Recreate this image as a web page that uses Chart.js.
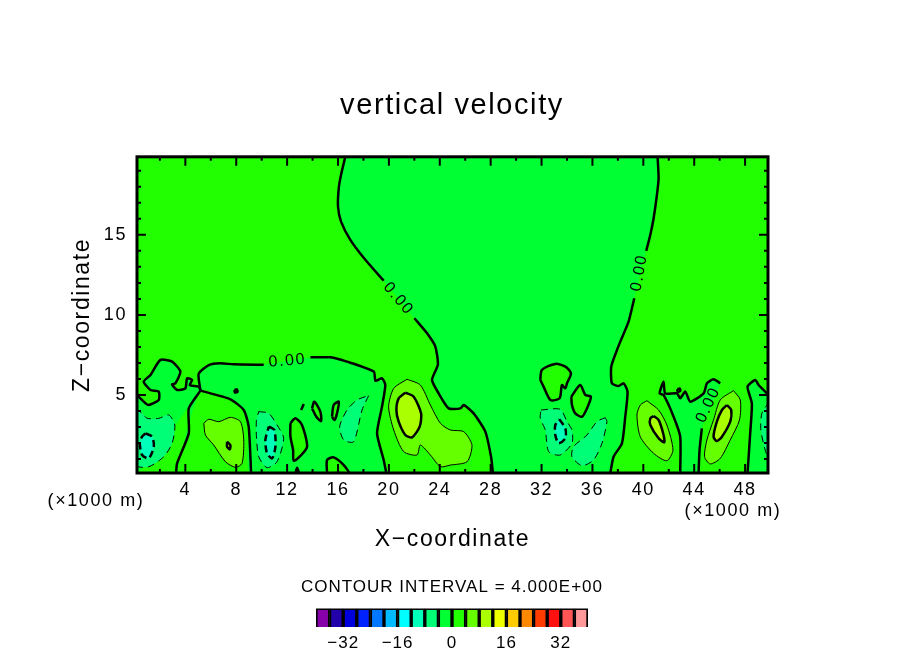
<!DOCTYPE html>
<html>
<head>
<meta charset="utf-8">
<title>vertical velocity</title>
<script src="https://cdn.jsdelivr.net/npm/chart.js@4/dist/chart.umd.js"></script>
<style>
    html, body { margin: 0; background: #fff; }
    #wrap { position: relative; width: 904px; height: 654px; overflow: hidden; }
    #mainChart { position: absolute; left: 0; top: 0; }
    #barChart { position: absolute; left: 0; top: 570px; }
</style>
</head>
<body>
<div id="wrap">
    <canvas id="mainChart"></canvas>
    <canvas id="barChart"></canvas>
</div>
<script>
// Axes
const xRange = [0.2, 49.8];
const yRange = [0.125, 19.875];
const xMajorTicks = [4, 8, 12, 16, 20, 24, 28, 32, 36, 40, 44, 48];
const xMinorTicks = [2, 6, 10, 14, 18, 22, 26, 30, 34, 38, 42, 46];
const yMajorTicks = [5, 10, 15];
const yMinorTicks = [1, 2, 3, 4, 6, 7, 8, 9, 11, 12, 13, 14, 16, 17, 18, 19];

// Zero contour in (km, km)
const zeroCenterLeftUpper = [[16.58, 19.9], [16.24, 18.75], [16.06, 17.92], [16.0, 16.77], [16.24, 15.83], [16.97, 14.69], [18.15, 13.44], [19.59, 12.13]];
const zeroCenterLeftLower = [[22.0, 9.79], [23.0, 8.85], [23.65, 8.02], [23.85, 6.9], [23.39, 5.94], [23.91, 5.1], [24.7, 4.16], [25.62, 4.16], [25.88, 4.37], [26.66, 3.85], [27.58, 2.71], [28.03, 1.14], [28.18, 0.1]];
const zeroCenterRightUpper = [[41.12, 19.9], [41.2, 18.54], [41.07, 17.5], [40.81, 16.04], [40.55, 15.0], [40.23, 14.0]];
const zeroCenterRightLower = [[39.29, 11.04], [38.84, 9.58], [38.19, 8.33], [37.93, 7.81], [37.48, 6.77], [37.53, 5.73], [38.06, 5.56], [38.45, 5.73], [38.76, 5.21], [38.58, 3.64], [38.32, 1.98], [37.66, 1.14], [37.4, 0.1]];
const zeroLeftWiggle = [[0.2, 5.0], [0.26, 4.94], [0.87, 4.48], [1.13, 4.37], [1.91, 4.69], [1.91, 5.21], [1.26, 5.31], [0.73, 5.83], [1.26, 6.25], [2.04, 7.19], [2.96, 7.08], [3.61, 6.46], [3.22, 5.73], [2.96, 5.66], [3.35, 5.31], [4.0, 5.41], [4.14, 6.04], [4.53, 5.94], [4.35, 5.62], [5.06, 5.52], [5.19, 5.27]];
const zeroLobeLeft = [[5.19, 5.27], [4.27, 4.16], [4.27, 2.6], [3.35, 0.73], [3.27, 0.1]];
const zeroLobeRight = [[5.19, 5.27], [7.54, 4.73], [8.59, 4.06], [8.98, 3.02], [9.17, 0.1]];
const zeroRoofLeft = [[5.19, 5.27], [5.06, 5.94], [5.06, 6.35], [5.84, 6.87], [6.76, 6.98], [7.81, 6.91], [10.16, 6.89]];
const zeroRoofRight = [[13.83, 7.35], [15.4, 7.35], [16.71, 7.08], [18.81, 6.46], [18.94, 5.89], [19.46, 6.04], [19.72, 5.62], [19.46, 4.27], [19.07, 2.6], [19.59, 0.94], [19.8, 0.1]];
const zeroPocketLeft = [[42.9, 0.1], [42.9, 2.39], [42.38, 3.64], [41.59, 5.0], [41.28, 5.1], [41.59, 5.83], [41.72, 5.1], [42.64, 5.1], [42.9, 4.79], [43.3, 5.21], [43.69, 4.58], [44.74, 5.1], [45.0, 5.73], [45.52, 5.98], [46.05, 5.73]];
const zeroPocketRight = [[44.6, 2.91], [44.42, 1.56], [44.34, 0.1]];
const zeroRightEdge = [[48.19, 0.1], [48.4, 2.6], [48.53, 4.48], [48.19, 5.52], [48.8, 5.94], [49.06, 5.62], [49.85, 5.0]];

// Positive islands bounded by the zero contour
const islandA = [[12.26, 3.23], [12.65, 3.54], [13.17, 3.12], [13.57, 1.77], [13.04, 1.19], [12.52, 0.89], [12.47, 1.56], [12.26, 2.39]];
const islandB = [[15.14, 0.1], [15.14, 0.94], [15.66, 1.1], [16.45, 0.62], [16.84, 0.1]];
const islandC = [[12.65, 0.1], [12.78, 0.46], [12.91, 0.1]];
const islandD = [[13.96, 4.16], [14.14, 4.58], [14.61, 3.96], [14.67, 3.37], [14.3, 3.64]];
const islandE = [[15.53, 3.64], [15.66, 4.37], [16.06, 4.58], [15.92, 3.85], [15.72, 3.44]];
const islandF = [[7.85, 5.3], [8.05, 5.35], [8.1, 5.2], [7.9, 5.15]];
const islandG = [[31.9, 5.94], [32.03, 6.56], [33.08, 6.94], [33.87, 6.77], [34.31, 6.35], [34.0, 5.73], [33.87, 5.41], [33.6, 5.62], [33.42, 4.79], [32.69, 4.69], [32.16, 5.52]];
const islandH = [[34.34, 4.89], [35.04, 5.62], [35.44, 5.0], [35.88, 4.89], [35.57, 4.16], [35.18, 3.64], [34.65, 3.85], [34.39, 4.37]];
const islandI = [[42.67, 5.36], [42.87, 5.4], [42.9, 5.25], [42.7, 5.2]];
const zeroStub = [[13.1, 4.06], [13.31, 4.44]];

// +4 level
const plusFourA = [[5.45, 3.23], [5.84, 3.48], [6.63, 3.33], [7.54, 3.6], [8.33, 3.33], [8.59, 2.19], [8.46, 0.73], [7.94, 0.48], [7.15, 0.83], [6.23, 1.87], [5.58, 2.5]];
const plusFourB = [[21.43, 5.98], [22.47, 5.62], [23.26, 4.37], [24.05, 3.23], [24.83, 2.81], [25.88, 2.71], [26.53, 1.87], [26.14, 0.83], [24.83, 0.62], [24.05, 0.52], [23.26, 1.25], [22.47, 1.87], [22.21, 1.25], [21.16, 1.46], [20.38, 2.81], [19.98, 4.27], [20.38, 5.41]];
const plusFourC = [[40.28, 4.64], [41.2, 4.06], [41.85, 3.12], [42.33, 1.56], [41.85, 0.89], [40.81, 1.35], [39.76, 2.39], [39.5, 3.75], [39.76, 4.37]];
const plusFourD = [[47.09, 5.27], [47.62, 4.69], [47.56, 3.44], [46.83, 2.19], [46.05, 1.04], [45.26, 0.69], [44.81, 1.14], [45.0, 2.19], [45.52, 3.44], [46.05, 4.69]];

// +8 level
const plusEightA = [[7.28, 2.08], [7.54, 1.87], [7.49, 1.6], [7.28, 1.77]];
const plusEightB = [[21.29, 5.14], [21.95, 4.89], [22.53, 3.85], [22.42, 3.02], [21.82, 2.35], [21.29, 2.5], [20.77, 3.33], [20.59, 4.06], [20.77, 4.79]];
const plusEightC = [[40.81, 3.69], [41.2, 3.44], [41.59, 2.5], [41.64, 2.04], [41.2, 2.29], [40.55, 3.12], [40.55, 3.54]];
const plusEightD = [[46.57, 4.37], [46.91, 4.06], [46.83, 3.33], [46.18, 2.39], [45.78, 2.12], [45.52, 2.39], [45.78, 3.33], [46.18, 4.06]];

// -4 level
const minusFourA = [[0.1, 4.16], [0.6, 3.85], [1.0, 3.54], [1.91, 3.54], [2.7, 3.75], [3.17, 3.12], [2.96, 1.98], [2.3, 1.14], [1.13, 0.52], [0.1, 0.62]];
const minusFourB = [[9.77, 3.96], [10.56, 3.85], [11.21, 3.12], [11.73, 2.29], [11.21, 0.83], [10.42, 0.46], [9.77, 1.14], [9.59, 2.39], [9.59, 3.43]];
const minusFourC = [[18.41, 4.96], [17.89, 4.06], [17.23, 2.08], [16.45, 2.19], [16.13, 3.02], [16.71, 4.06], [17.5, 4.69]];
const minusFourD = [[31.95, 4.06], [33.47, 4.1], [34.0, 3.33], [34.39, 2.81], [34.39, 1.98], [33.47, 1.25], [32.56, 1.46], [32.29, 2.81], [31.9, 3.54]];
const minusFourE = [[37.01, 3.58], [37.14, 3.33], [36.75, 1.98], [36.09, 0.94], [35.18, 0.58], [34.39, 1.14], [34.52, 1.77], [35.57, 2.5], [36.35, 3.33]];
const minusFourF = [[49.9, 4.58], [49.32, 3.85], [49.24, 2.81], [49.58, 1.56], [49.9, 0.94]];

// -8 level
const minusEightA = [[0.87, 2.6], [1.39, 2.39], [1.52, 1.77], [1.13, 1.04], [0.6, 1.25], [0.42, 1.98], [0.6, 2.39]];
const minusEightB = [[10.56, 3.02], [11.0, 2.81], [11.08, 1.77], [10.82, 1.04], [10.42, 1.35], [10.29, 2.19]];
const minusEightC = [[33.39, 3.48], [33.87, 2.91], [33.87, 2.29], [33.34, 1.98], [33.08, 2.5], [33.08, 3.12]];

// Contour labels: text, x, z, rotation in degrees
const labelTexts = ['0.00', '0.00', '0.00', '0.00'];
const labelX = [12.02, 20.74, 39.68, 45.1];
const labelZ = [7.13, 11.0, 12.63, 4.38];
const labelAngle = [-5, 50, -80, -65];

// Colour bar
const barLevels = [-38, -34, -30, -26, -22, -18, -14, -10, -6, -2, 2, 6, 10, 14, 18, 22, 26, 30, 34, 38];
const barValues = [1, 1, 1, 1, 1, 1, 1, 1, 1, 1, 1, 1, 1, 1, 1, 1, 1, 1, 1, 1];
const barColors = ['#8800aa', '#2200aa', '#0000dd', '#0022ff', '#0077ff', '#00bbff', '#00ffff', '#00ffbb', '#00ff77', '#00ff33', '#22ff00', '#66ff00', '#aaff00', '#eeff00', '#ffcc00', '#ff8800', '#ff3c00', '#ff1111', '#ff5555', '#ff9999'];
const barTicks = [-32, -16, 0, 16, 32];

const TEXT_FONT = '"Liberation Sans"';
const C_ZERO_POS = '#22ff00';
const C_ZERO_NEG = '#00ff33';
const C_PLUS4 = '#66ff00';
const C_PLUS8 = '#aaff00';
const C_MINUS4 = '#00ff77';
const C_MINUS8 = '#00ffbb';

const THICK = 2.5;
const layers = [];

function toPoints(list) {
    return list.map(([x, y]) => ({ x, y }));
}

function rev(list) {
    return list.slice().reverse();
}

// fill only, no outline
function addFill(list, color, tension) {
    layers.push({
        data: toPoints(list.concat([list[0]])),
        showLine: true, fill: 'shape', backgroundColor: color,
        borderWidth: 0, borderColor: 'transparent', pointRadius: 0, tension
    });
}

function addLine(list, width) {
    layers.push({
        data: toPoints(list),
        showLine: true, fill: false, borderColor: '#000',
        borderWidth: width, pointRadius: 0, tension: 0.2
    });
}

// closed blob with outline
function addBlob(list, color, width, dash) {
    layers.push({
        data: toPoints(list.concat([list[0]])),
        showLine: true, fill: 'shape', backgroundColor: color, borderColor: '#000',
        borderWidth: width, borderDash: dash || [], pointRadius: 0, tension: 0.25
    });
}

const bottomY = 0.1;
const topY = 20;
const leftX = 0.1;
const rightX = 49.9;

// background first, everything else painted on top in order
addFill([[leftX, bottomY], [rightX, bottomY], [rightX, topY], [leftX, topY]], C_ZERO_POS, 0);
addFill(zeroCenterLeftUpper.concat(zeroCenterLeftLower, rev(zeroCenterRightLower), rev(zeroCenterRightUpper)), C_ZERO_NEG, 0.2);
addFill(zeroLeftWiggle.concat(zeroRoofLeft, zeroRoofRight, rev(zeroLobeRight), rev(zeroLobeLeft), [[leftX, bottomY], [leftX, 5]]), C_ZERO_NEG, 0.2);
addFill(zeroPocketLeft.concat(zeroPocketRight), C_ZERO_NEG, 0.2);
addFill(zeroRightEdge.concat([[rightX, bottomY]]), C_ZERO_NEG, 0.2);

[zeroCenterLeftUpper, zeroCenterLeftLower, zeroCenterRightUpper, zeroCenterRightLower,
    zeroLeftWiggle, zeroLobeLeft, zeroLobeRight, zeroRoofLeft, zeroRoofRight,
    zeroPocketLeft, zeroPocketRight, zeroRightEdge, zeroStub].forEach(c => addLine(c, THICK));

[islandA, islandB, islandC, islandD, islandE, islandF, islandG, islandH, islandI].forEach(c => addBlob(c, C_ZERO_POS, THICK));
[plusFourA, plusFourB, plusFourC, plusFourD].forEach(c => addBlob(c, C_PLUS4, 1));
[plusEightA, plusEightB, plusEightC, plusEightD].forEach(c => addBlob(c, C_PLUS8, THICK));
[minusFourA, minusFourB, minusFourC, minusFourD, minusFourE, minusFourF].forEach(c => addBlob(c, C_MINUS4, 1, [7, 5]));
[minusEightA, minusEightB, minusEightC].forEach(c => addBlob(c, C_MINUS8, THICK, [7, 4]));

// wide stroke-font look for all text on a canvas
function spacingPlugin(px) {
    return {
        id: 'spacing',
        beforeDraw(chart) {
            chart.ctx.letterSpacing = px;
        }
    };
}

// frame, inward ticks and the free-standing text
const framePlugin = {
    id: 'frame',
    afterDatasetsDraw(chart) {
        const { ctx, chartArea: a, scales: { x, y } } = chart;
        ctx.save();
        ctx.strokeStyle = '#000';
        ctx.fillStyle = '#000';
        ctx.lineWidth = 2;
        const tickX = (v, len) => {
            const p = x.getPixelForValue(v);
            ctx.beginPath();
            ctx.moveTo(p, a.bottom); ctx.lineTo(p, a.bottom - len);
            ctx.moveTo(p, a.top); ctx.lineTo(p, a.top + len);
            ctx.stroke();
        };
        const tickY = (v, len) => {
            const p = y.getPixelForValue(v);
            ctx.beginPath();
            ctx.moveTo(a.left, p); ctx.lineTo(a.left + len, p);
            ctx.moveTo(a.right, p); ctx.lineTo(a.right - len, p);
            ctx.stroke();
        };
        xMajorTicks.forEach(v => tickX(v, 9));
        xMinorTicks.forEach(v => tickX(v, 4));
        yMajorTicks.forEach(v => tickY(v, 9));
        yMinorTicks.forEach(v => tickY(v, 4));
        ctx.lineWidth = 3;
        ctx.strokeRect(a.left, a.top, a.right - a.left, a.bottom - a.top);

        ctx.textAlign = 'center';
        ctx.textBaseline = 'middle';
        ctx.font = '16px ' + TEXT_FONT;
        labelTexts.forEach((t, i) => {
            ctx.save();
            ctx.translate(x.getPixelForValue(labelX[i]), y.getPixelForValue(labelZ[i]));
            ctx.rotate(labelAngle[i] * Math.PI / 180);
            ctx.fillText(t, 0, 0);
            ctx.restore();
        });

        ctx.font = '18px ' + TEXT_FONT;
        ctx.fillText('(×1000 m)', 96, 501);
        ctx.fillText('(×1000 m)', 733, 511);
        ctx.restore();
    }
};

function tickFont() {
    return { family: TEXT_FONT, size: 18 };
}

document.addEventListener('DOMContentLoaded', () => {
    new Chart(document.getElementById('mainChart'), {
        type: 'scatter',
        data: { datasets: layers.slice().reverse() },
        plugins: [spacingPlugin('1.6px'), framePlugin],
        options: {
            responsive: false,
            animation: false,
            devicePixelRatio: 1,
            layout: { padding: { left: 0, right: 0, top: 0, bottom: 101 } },
            plugins: {
                legend: { display: false },
                tooltip: { enabled: false },
                title: {
                    display: true,
                    text: 'vertical velocity',
                    color: '#000',
                    font: { family: TEXT_FONT, size: 29, weight: 'normal' },
                    padding: { top: 89, bottom: 33 }
                }
            },
            scales: {
                x: {
                    type: 'linear',
                    min: xRange[0],
                    max: xRange[1],
                    afterBuildTicks: s => { s.ticks = xMajorTicks.map(value => ({ value })); },
                    afterFit: s => { s.height = 80; },
                    grid: { display: false, drawTicks: false },
                    border: { display: false },
                    ticks: { color: '#000', font: tickFont(), padding: 6, maxRotation: 0, autoSkip: false, callback: v => String(v) },
                    title: { display: true, text: 'X\u2212coordinate', color: '#000', font: { family: TEXT_FONT, size: 23 }, padding: { top: 0, bottom: 0 } }
                },
                y: {
                    type: 'linear',
                    min: yRange[0],
                    max: yRange[1],
                    afterBuildTicks: s => { s.ticks = yMajorTicks.map(value => ({ value })); },
                    afterFit: s => { s.width = 137; },
                    grid: { display: false, drawTicks: false },
                    border: { display: false },
                    ticks: { color: '#000', font: tickFont(), padding: 10, callback: v => String(v) },
                    title: { display: true, text: 'Z\u2212coordinate', color: '#000', font: { family: TEXT_FONT, size: 23 }, padding: { top: 69, bottom: 0 } }
                },
                // empty margin on the right so the title stays centred on the page
                yMargin: {
                    type: 'linear',
                    position: 'right',
                    afterFit: s => { s.width = 136; },
                    grid: { display: false, drawTicks: false },
                    border: { display: false },
                    ticks: { display: false }
                }
            }
        }
    });

    new Chart(document.getElementById('barChart'), {
        type: 'bar',
        data: {
            datasets: [{
                data: barLevels.map((x, i) => ({ x, y: barValues[i] })),
                backgroundColor: barColors,
                borderColor: '#000',
                borderWidth: 2,
                barPercentage: 1,
                categoryPercentage: 1
            }]
        },
        plugins: [spacingPlugin('1px')],
        options: {
            responsive: false,
            animation: false,
            devicePixelRatio: 1,
            plugins: {
                legend: { display: false },
                tooltip: { enabled: false },
                title: {
                    display: true,
                    text: 'CONTOUR INTERVAL = 4.000E+00',
                    color: '#000',
                    font: { family: TEXT_FONT, size: 17, weight: 'normal' },
                    padding: { top: 7, bottom: 11 }
                }
            },
            scales: {
                x: {
                    type: 'linear',
                    min: -40,
                    max: 40,
                    offset: false,
                    afterBuildTicks: s => { s.ticks = barTicks.map(value => ({ value })); },
                    afterFit: s => { s.height = 27; },
                    grid: { display: false, drawTicks: false },
                    border: { display: false },
                    ticks: { color: '#000', font: { family: TEXT_FONT, size: 17 }, padding: 6, maxRotation: 0, autoSkip: false, callback: v => String(v).replace('-', '\u2212') }
                },
                // side margins as empty axes, layout padding would squeeze the title
                y: {
                    min: 0,
                    max: 1,
                    afterFit: s => { s.width = 316; },
                    grid: { display: false, drawTicks: false },
                    border: { display: false },
                    ticks: { display: false }
                },
                yMargin: {
                    type: 'linear',
                    position: 'right',
                    afterFit: s => { s.width = 316; },
                    grid: { display: false, drawTicks: false },
                    border: { display: false },
                    ticks: { display: false }
                }
            }
        }
    });
});

// canvas sizes have to exist before Chart.js reads them
document.getElementById('mainChart').width = 904;
document.getElementById('mainChart').height = 654;
document.getElementById('barChart').width = 904;
document.getElementById('barChart').height = 84;
</script>
</body>
</html>
